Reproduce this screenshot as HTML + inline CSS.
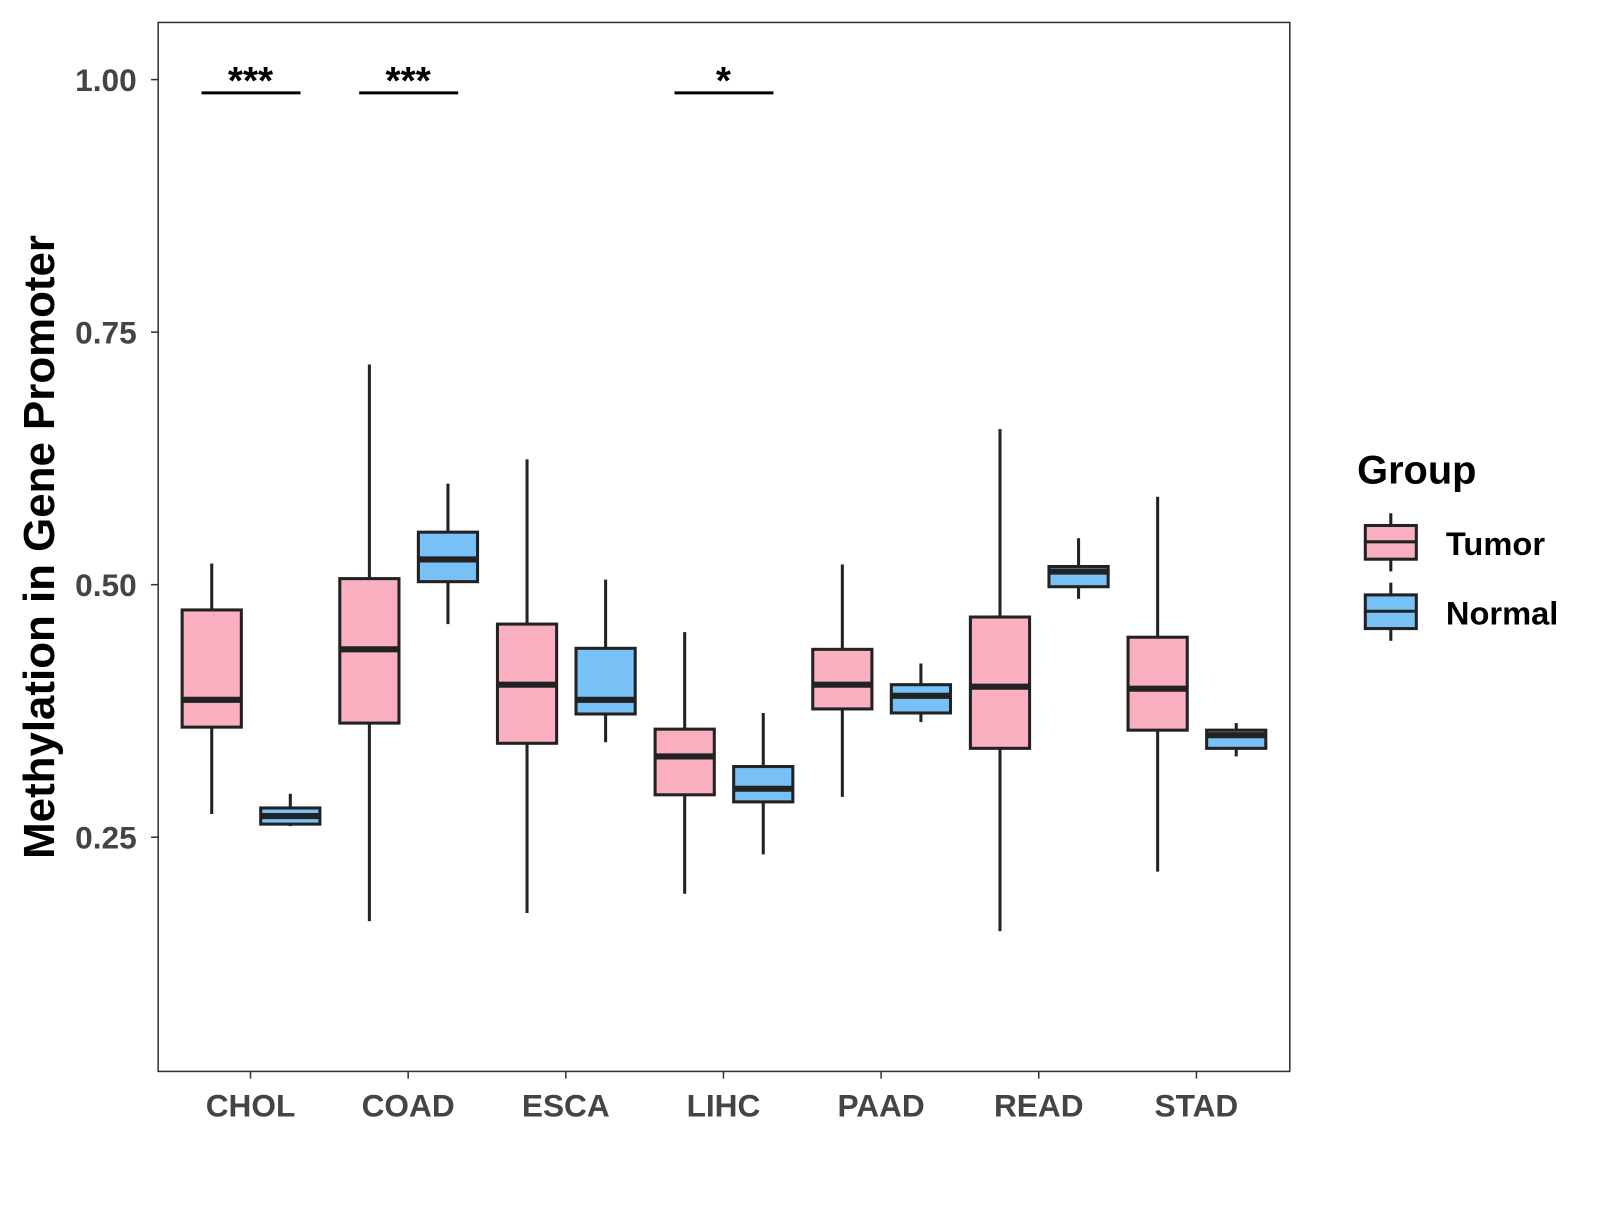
<!DOCTYPE html>
<html><head><meta charset="utf-8"><style>
body{margin:0;background:#fff}
svg text{font-family:"Liberation Sans",Arial,sans-serif;font-weight:bold}
</style></head><body>
<svg id="chart" width="1600" height="1200" xmlns="http://www.w3.org/2000/svg">
<rect x="0" y="0" width="1600" height="1200" fill="#fff"/>
<g transform="scale(1.0204)">
<rect x="155" y="22" width="1109" height="1028" fill="none" stroke="#333" stroke-width="1.5"/>
<g id="marks"></g>
<text x="53" y="536" transform="rotate(-90 53 536)" text-anchor="middle" font-size="43" fill="#000">Methylation in Gene Promoter</text>
<g>
<text x="1330" y="474" font-size="39" fill="#000">Group</text>
<g>
<line x1="1363" y1="503" x2="1363" y2="560" stroke="#222" stroke-width="3"/>
<rect x="1338" y="515" width="50" height="33" fill="#FBB0C2" stroke="#222" stroke-width="3"/>
<line x1="1338" y1="531" x2="1388" y2="531" stroke="#222" stroke-width="3"/>
<text x="1417" y="544" font-size="32" fill="#000">Tumor</text></g>
<g>
<line x1="1363" y1="571" x2="1363" y2="628" stroke="#222" stroke-width="3"/>
<rect x="1338" y="583" width="50" height="33" fill="#77C1F7" stroke="#222" stroke-width="3"/>
<line x1="1338" y1="599" x2="1388" y2="599" stroke="#222" stroke-width="3"/>
<text x="1417" y="612" font-size="32" fill="#000">Normal</text></g>
</g>
</g>
</svg>
<script>
const categories=["CHOL","COAD","ESCA","LIHC","PAAD","READ","STAD"];
const tumorLow=[0.273,0.167,0.175,0.194,0.290,0.157,0.216];
const tumorQ1=[0.359,0.363,0.343,0.292,0.377,0.338,0.356];
const tumorMed=[0.386,0.436,0.401,0.330,0.401,0.399,0.397];
const tumorQ3=[0.475,0.506,0.461,0.357,0.436,0.468,0.448];
const tumorHigh=[0.521,0.718,0.624,0.453,0.520,0.654,0.587];
const normalLow=[0.261,0.461,0.344,0.233,0.364,0.486,0.330];
const normalQ1=[0.263,0.503,0.372,0.285,0.373,0.498,0.338];
const normalMed=[0.271,0.525,0.386,0.298,0.390,0.513,0.351];
const normalQ3=[0.279,0.552,0.437,0.320,0.401,0.518,0.356];
const normalHigh=[0.293,0.600,0.505,0.373,0.422,0.546,0.363];
const sigLabels=["***","***","","*","","",""];
const yTicks=[0.25,0.50,0.75,1.00];
const yTickLabels=["0.25","0.50","0.75","1.00"];

const NS="http://www.w3.org/2000/svg";
const g=document.getElementById('marks');
function y(v){return 78+(1-v)*990;}
function x(i){return 245.5+i*154.5;}
function mk(tag,attrs,parent){const e=document.createElementNS(NS,tag);for(const k in attrs)e.setAttribute(k,attrs[k]);(parent||g).appendChild(e);return e;}
yTicks.forEach((t,i)=>{
  const l=mk('line',{x1:148,x2:155,y1:y(t),y2:y(t),stroke:'#333','stroke-width':1.5});
  
  
  const tx=mk('text',{x:134,y:y(t)+11,'text-anchor':'end','font-size':31,fill:'#444'});
  tx.textContent=yTickLabels[i];
  
  
});
categories.forEach((c,i)=>{
  const cx=x(i);
  mk('line',{x1:cx,x2:cx,y1:1050,y2:1057,stroke:'#333','stroke-width':1.5});
  const tx=mk('text',{x:cx,y:1094,'text-anchor':'middle','font-size':31,fill:'#444'});
  tx.textContent=c;
  
  
  [[-38,'#FBB0C2',tumorLow,tumorQ1,tumorMed,tumorQ3,tumorHigh,'tumor'],[39,'#77C1F7',normalLow,normalQ1,normalMed,normalQ3,normalHigh,'normal']].forEach(s=>{
    const bx=cx+s[0];
    const grp=mk('g',{});
    
    
    mk('line',{x1:bx,x2:bx,y1:y(s[2][i]),y2:y(s[6][i]),stroke:'#222','stroke-width':3},grp);
    mk('rect',{x:bx-29,y:y(s[5][i]),width:58,height:y(s[3][i])-y(s[5][i]),fill:s[1],stroke:'#222','stroke-width':3},grp);
    mk('line',{x1:bx-29,x2:bx+29,y1:y(s[4][i]),y2:y(s[4][i]),stroke:'#222','stroke-width':6},grp);
  });
  if(sigLabels[i]){
    const l=mk('line',{x1:cx-48,x2:cx+49,y1:91,y2:91,stroke:'#000','stroke-width':3});
    
    
    const st=mk('text',{x:cx,y:92,'text-anchor':'middle','font-size':38,fill:'#000'});
    st.textContent=sigLabels[i];
    
    
  }
});
</script>
</body></html>
